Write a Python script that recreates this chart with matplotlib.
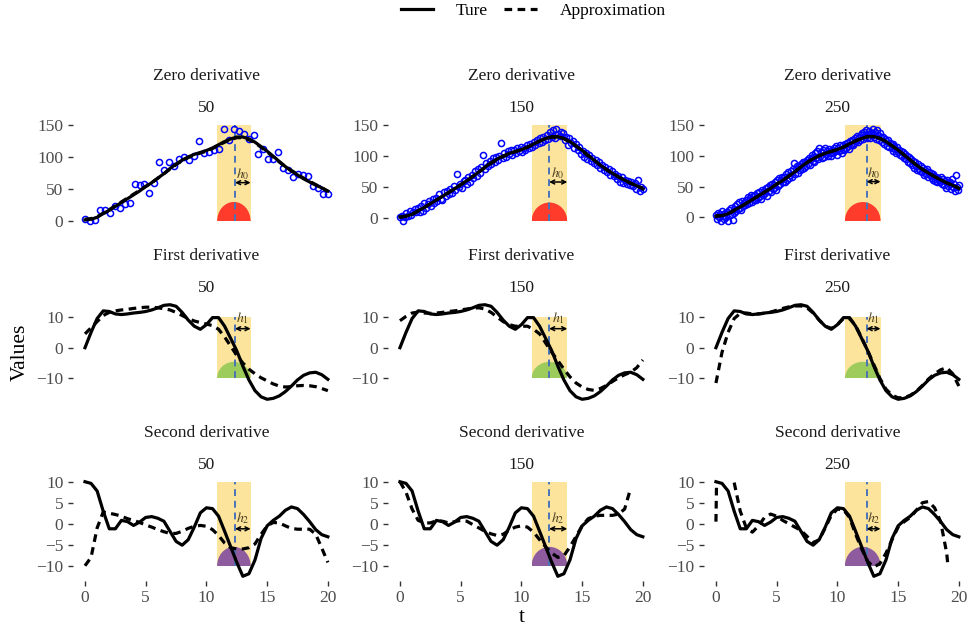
import numpy as np
import matplotlib.pyplot as plt
from matplotlib.patches import Rectangle, Ellipse
from matplotlib.lines import Line2D

plt.rcParams['font.family'] = ['Liberation Serif', 'DejaVu Serif']
plt.rcParams['mathtext.fontset'] = 'stix'

# ---- data ----
T = np.arange(0, 20.5, 0.5)   # evaluation grid of the curves
sizes = [50, 150, 250]
deriv_titles = ['Zero derivative', 'First derivative', 'Second derivative']

# true curves
true_f0 = [2, 3, 6, 12, 17, 23, 29, 35, 41, 47, 54, 60, 67, 74, 82, 89, 95, 100, 104, 107, 110,
           114, 119, 124, 128, 131, 131, 128, 123, 116, 109, 101, 93, 85, 78, 72, 66, 61, 56, 52, 47]
true_f1 = [0, 5, 9.5, 12, 11.8, 11, 10.8, 11, 11.3, 11.5, 11.8, 12.3, 13, 13.8, 14, 13.5, 11.5, 9, 7, 6, 7.5,
           9.8, 9.8, 7, 3, -1, -6, -10.5, -14, -16, -16.8, -16.5, -15.7, -14.3, -12.5, -10.5, -9, -8.2, -8, -8.8, -10.3]
true_f2 = [10, 9.6, 7.8, 3, -1.2, -1.2, 0.8, 0.5, -0.4, 0.4, 1.5, 1.7, 1.3, 0.6, -1.8, -4.2, -5.1, -3.8, -0.8, 2.6, 3.8,
           3.6, 1.8, -1.8, -5.5, -9.2, -12.5, -11.9, -8.6, -3.5, -0.5, 0.8, 1.8, 3.2, 4, 3.6, 2.2, 0.5, -1.4, -2.6, -3.1]

# approximations, one per sample size
approx_f0_50 = [3, 4, 7, 12, 18, 24, 30, 36, 42, 48, 54, 60, 67, 74, 81, 88, 94, 99, 103, 106, 109,
                113, 118, 123, 127, 130, 130, 127, 122, 115, 108, 100, 92, 85, 79, 73, 67, 62, 57, 52, 46]
approx_f0_150 = [1, 3, 6, 11, 17, 23, 29, 35, 41, 47, 53, 60, 67, 74, 81, 88, 94, 99, 103, 107, 110,
                 114, 119, 124, 128, 130, 130, 128, 122, 116, 108, 100, 93, 85, 78, 72, 66, 61, 56, 52, 48]
approx_f0_250 = [3, 3, 6, 11, 17, 23, 29, 35, 41, 47, 54, 60, 67, 74, 82, 89, 95, 100, 104, 107, 110,
                 114, 119, 124, 128, 131, 131, 128, 123, 116, 109, 101, 93, 85, 78, 72, 66, 61, 56, 52, 48]

approx_f1_50 = [4.5, 6.5, 8.5, 10.5, 11.5, 12, 12.3, 12.5, 12.8, 13, 13.2, 13.2, 13, 12.7, 12.3, 11.5, 10.5, 9.5, 8.7, 8.2, 7.7,
                7.2, 6, 3.5, 0.5, -2.5, -5, -7, -8.5, -9.8, -10.8, -11.8, -12.5, -12.8, -12.7, -12.4, -12.3, -12.4, -12.7, -13.3, -14]
approx_f1_150 = [8.8, 10.2, 11.3, 11.6, 11.3, 11.2, 11.3, 11.5, 11.8, 12, 12.3, 12.6, 12.9, 13, 12.6, 11.5, 10, 8.5, 7.5, 7, 7,
                 7, 6, 4.5, 1.5, -1.5, -4.2, -7, -9.5, -11.5, -12.8, -13.6, -13.9, -13.3, -12.3, -11, -9.8, -8.8, -8, -6.5, -4]
approx_f1_250 = [-11.5, -1.5, 5, 9.5, 11.2, 11.3, 11, 11, 11.2, 11.6, 12.2, 12.8, 13.3, 13.6, 13.6, 13, 11.3, 9, 7, 6.3, 7.5,
                 9.5, 9.5, 7.2, 3.2, -1, -5.5, -10, -13.5, -15.5, -16.3, -16.3, -15.5, -14.2, -12.3, -10.2, -8.5, -7.2, -6.5, -8.5, -12.5]

approx_f2_50 = [-10, -8, -1, 2.8, 2.5, 2.2, 1.8, 1.2, 0.8, 0.3, -0.3, -0.8, -1.4, -1.9, -2.3, -2.3, -1.8, -1.1, -0.6, -0.4, -0.6,
                -1.4, -2.8, -4.6, -5.7, -6, -6, -5.7, -4.8, -2.5, -0.5, 0.3, 0.2, -0.5, -1.1, -1.3, -1.3, -1.3, -2.5, -5.8, -9.2]
approx_f2_150 = [10, 7.5, 3.5, 0.8, 0.2, 0.2, 0.7, 0.6, 0.2, 0.5, 0.8, 0.6, -0.2, -1, -1.8, -2.4, -2.8, -2.5, -1.5, -0.8, -0.5,
                 -0.8, -2, -3.8, -5.5, -7, -8, -7.6, -5.5, -3, -0.5, 1.2, 1.8, 2, 2, 2, 2.3, 3.5, 8.5, np.nan, np.nan]
t_f2_250 = [0, 0.05, 0.1] + list(np.arange(1.5, 19.01, 0.5)) + [19.1]
approx_f2_250 = [0.5, 9.8, np.nan, 9.8, 3, -1, -2, -0.5, 1.5, 2.3, 1.8, 0.8, 0, -0.8, -1.6, -3, -4.5, -3.8, -1, 2,
                 3.5, 3.3, 1.5, -2.5, -6, -9, -10.3, -9.5, -7, -3.8, -0.8, 0.5, 1.5, 3.2, 5, 5.3, 3.8, 0.5, -7, -10]

# noisy observations (zero derivative row)
obs_50 = [3, 0, 1.5, 17, 18, 13, 24, 21, 26, 29, 58, 57, 58, 44, 60, 92, 79, 92, 86, 97, 100, 95, 101, 125, 106,
          107, 111, 112, 144, 127, 144, 141, 136, 128, 134, 104, 112, 97, 97, 107, 83, 80, 69, 74, 72, 70, 55, 51, 42, 42]
obs_150 = [2, 4, -5, 1, 8, 3, 12, 5, 10, 14,
           9, 17, 10, 19, 12, 25, 16, 22, 28, 20,
           30, 24, 33, 27, 38, 31, 29, 42, 35, 44,
           38, 47, 41, 52, 45, 71, 50, 55, 49, 60,
           62, 55, 66, 58, 70, 64, 75, 67, 79, 72,
           82, 101, 79, 88, 83, 92, 87, 96, 90, 98,
           93, 100, 120, 97, 105, 99, 108, 103, 110, 101,
           110, 104, 112, 108, 115, 106, 113, 110, 117, 112,
           119, 114, 122, 118, 125, 120, 128, 123, 131, 126,
           133, 127, 138, 130, 141, 129, 143, 136, 132, 139,
           137, 126, 130, 118, 128, 121, 124, 113, 119, 110,
           114, 103, 108, 99, 104, 95, 101, 92, 97, 88,
           93, 85, 90, 80, 86, 77, 82, 74, 79, 70,
           75, 67, 71, 63, 68, 58, 66, 56, 62, 55,
           60, 53, 58, 51, 57, 47, 62, 44, 50, 46]
obs_250 = [4, -3, 8, 0, 6, -6, 10, 2, -2, 7,
           1, 9, -5, 12, 4, 15, 6, -4, 14, 8,
           19, 10, 22, 13, 25, 16, 12, 27, 18, 24,
           20, 29, 22, 33, 24, 31, 36, 25, 34, 28,
           37, 28, 40, 31, 42, 34, 30, 45, 36, 43,
           39, 47, 35, 50, 43, 53, 41, 55, 46, 52,
           48, 58, 45, 61, 51, 64, 54, 60, 66, 57,
           65, 58, 70, 61, 73, 64, 68, 76, 66, 79,
           88, 70, 78, 83, 72, 84, 77, 86, 79, 89,
           80, 90, 84, 93, 86, 97, 85, 95, 101, 91,
           98, 90, 104, 96, 108, 95, 113, 99, 106, 97,
           109, 98, 112, 102, 107, 100, 111, 104, 99, 110,
           104, 113, 108, 115, 101, 112, 107, 117, 110, 105,
           117, 110, 119, 113, 121, 116, 111, 123, 118, 125,
           118, 126, 121, 129, 124, 132, 122, 130, 126, 134,
           136, 127, 139, 131, 142, 129, 135, 140, 128, 137,
           134, 143, 130, 138, 127, 141, 133, 125, 136, 130,
           122, 130, 119, 127, 124, 116, 125, 114, 121, 119,
           113, 119, 108, 116, 111, 104, 114, 106, 110, 101,
           108, 99, 106, 97, 103, 94, 100, 90, 98, 88,
           95, 85, 91, 80, 89, 83, 77, 87, 79, 75,
           83, 74, 80, 69, 77, 71, 78, 66, 73, 68,
           72, 64, 70, 61, 67, 59, 65, 57, 64, 60,
           57, 65, 54, 62, 52, 59, 48, 60, 51, 56,
           58, 46, 62, 49, 55, 43, 68, 50, 45, 52]

# local window (shaded band) per sample size
win_lo = [10.88, 10.84, 10.62]
win_hi = [13.64, 13.78, 13.55]
win_mark = [12.35, 12.28, 12.4]
band_lo = [[0, -5, -5], [-10, -10, -10], [-10, -10, -10]]
band_hi = [150, 10, 10]
kern_h = [30, 5.4, 4.5]
kern_col = ['#FF3B2B', '#9DCB5C', '#8E5C9E']
arrow_y = [[60, 58, 58], [6.2, 6.2, 6.2], [-1.2, -1.2, -1.2]]
label_off = [14, 3.3, 2.5]

true_curves = [true_f0, true_f1, true_f2]
approx = [[approx_f0_50, approx_f0_150, approx_f0_250],
          [approx_f1_50, approx_f1_150, approx_f1_250],
          [approx_f2_50, approx_f2_150, approx_f2_250]]
approx_t = [[T, T, T], [T, T, T], [T, T, t_f2_250]]
obs = [obs_50, obs_150, obs_250]
yticks = [[0, 50, 100, 150], [-10, 0, 10], [-10, -5, 0, 5, 10]]

# ---- layout (pixels) ----
W, H = 971, 628
col_px = [(72.85, 340.0), (387.8, 655.0), (703.8, 971.0)]
row_px = [(120, 226), (300, 404), (477, 581)]

fig = plt.figure(figsize=(W / 100, H / 100), dpi=100)
fig.patch.set_facecolor('white')

lw = 2.3
dash = (0, (2.4, 1.7))

for r in range(3):
    for c in range(3):
        x0, x1 = col_px[c]
        y0, y1 = row_px[r]
        ax = fig.add_axes([x0 / W, 1 - y1 / H, (x1 - x0) / W, (y1 - y0) / H])
        ax.set_facecolor('none')

        lo, hi = band_lo[r][c], band_hi[r]
        rect = Rectangle((win_lo[c], lo), win_hi[c] - win_lo[c], hi - lo,
                         facecolor='#FCE49D', edgecolor='none', zorder=1)
        ax.add_patch(rect)
        kc = (win_lo[c] + win_hi[c]) / 2
        kern = Ellipse((kc, lo), win_hi[c] - win_lo[c], 2 * kern_h[r],
                       facecolor=kern_col[r], edgecolor='none', zorder=2)
        ax.add_patch(kern)
        kern.set_clip_path(rect)
        ax.plot([win_mark[c], win_mark[c]], [lo, hi], color='#4A72B8', lw=1.4,
                linestyle=(0, (3.5, 2.5)), zorder=3)

        ya = arrow_y[r][c]
        ax.annotate('', xy=(win_hi[c], ya), xytext=(win_mark[c], ya),
                    arrowprops=dict(arrowstyle='<->', lw=1.1, color='black',
                                    shrinkA=0, shrinkB=0, mutation_scale=7), zorder=4)
        ax.text((win_mark[c] + win_hi[c]) / 2, ya + label_off[r], r'$h_%d$' % r,
                ha='center', va='center', fontsize=10, color='#4A4020', zorder=4)

        vals = [lo, hi]
        if r == 0:
            tp = np.linspace(0, 20, sizes[c])
            ax.plot(tp, obs[c], linestyle='none', marker='o', markersize=4.4,
                    markerfacecolor='none', markeredgecolor='#0000FF', markeredgewidth=1.1, zorder=5)
            vals += list(obs[c])

        ax.plot(T, true_curves[r], color='black', lw=lw, solid_joinstyle='round', zorder=6)
        ax.plot(approx_t[r][c], approx[r][c], color='black', lw=lw, linestyle=dash,
                dash_joinstyle='round', zorder=7)

        vals += list(true_curves[r]) + [v for v in approx[r][c] if not np.isnan(v)]
        vmin, vmax = min(vals), max(vals)
        pad = 0.05 * (vmax - vmin)
        ax.set_ylim(vmin - pad, vmax + pad)
        ax.set_xlim(-1, 21)

        for s in ax.spines.values():
            s.set_visible(False)
        ax.set_yticks(yticks[r])
        ax.set_xticks([0, 5, 10, 15, 20])
        ax.tick_params(axis='both', length=3.3, width=1.0, color='#333333',
                       labelcolor='#4D4D4D', labelsize=12.5, pad=3.5)
        if r < 2:
            ax.tick_params(axis='x', bottom=False, labelbottom=False)

        cx = (x0 + x1) / 2
        fig.text(cx / W, 1 - (y0 - 44) / H, deriv_titles[r], ha='center', va='center',
                 fontsize=12.5, color='#1A1A1A')
        fig.text(cx / W, 1 - (y0 - 12) / H, str(sizes[c]), ha='center', va='center',
                 fontsize=12.5, color='#1A1A1A')

fig.text(521.5 / W, 1 - 618 / H, 't', ha='center', va='center', fontsize=15.5)
fig.text(20 / W, 1 - 352 / H, 'Values', ha='center', va='center', fontsize=15.5, rotation=90)

handles = [Line2D([], [], color='black', lw=lw),
           Line2D([], [], color='black', lw=lw, linestyle=dash)]
fig.legend(handles, ['Ture', 'Approximation'], loc='center', bbox_to_anchor=(533 / W, 1 - 11 / H),
           ncol=2, frameon=False, fontsize=12.5, handlelength=1.9, handletextpad=1.3,
           columnspacing=0.9)

fig.savefig('out.png', dpi=100)
